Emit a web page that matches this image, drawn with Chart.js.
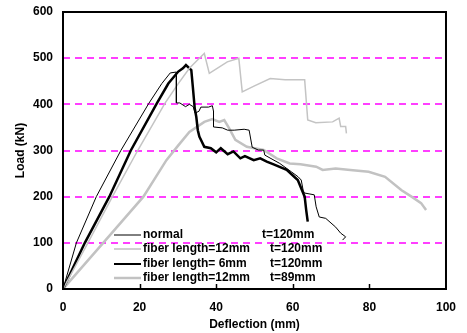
<!DOCTYPE html>
<html>
<head>
<meta charset="utf-8">
<script src="https://cdn.jsdelivr.net/npm/chart.js@4/dist/chart.umd.min.js"></script>
<style>
  html, body { margin: 0; padding: 0; background: #fff; }
  #wrap { width: 467px; height: 333px; }
</style>
</head>
<body>
<div id="wrap"><canvas id="loadChart" width="467" height="333"></canvas></div>
<script>
// valeurs (deflection en mm, load en kN)
const normalX = [0, 3.5, 8.7, 15.1, 22.4, 25.8, 28, 29.6, 29.6, 30.5, 32, 33, 34, 34.5, 35.5, 36, 38, 39, 39.3, 39.3, 41.6, 43, 44.7, 47.3, 48.6, 49.4, 51, 52.4, 52.7, 56.6, 59.6, 61.4, 62.2, 62.7, 63, 65.6, 66.1, 66.9, 68.6, 71.2, 72.5, 73.8, 73];
const normalY = [0, 100, 200, 300, 402, 445, 468, 470, 403, 403, 395, 400, 395, 381, 385, 394, 394, 397, 385, 351, 349, 344, 344, 346, 344, 307, 301, 301, 290, 272, 254, 243, 236, 214, 208, 204, 178, 156, 153, 134, 121, 113, 106];

const fiber12X = [0, 6.5, 12.9, 19.5, 26.6, 30.1, 33, 35, 36.9, 38.2, 42.9, 45.9, 46.8, 50, 54.1, 58, 63.1, 63.9, 66, 70.4, 72.1, 72.5, 73.8, 74];
const fiber12Y = [0, 100, 200, 300, 402, 445, 478, 495, 510, 467, 492, 500, 427, 440, 456, 453, 453, 366, 360, 362, 370, 352, 352, 337];

const fiber6X = [0, 5.7, 12.1, 17.7, 24.5, 27.5, 30.1, 31.3, 32.1, 33.5, 33.9, 34.4, 34.8, 35.2, 35.6, 36.9, 38.6, 40, 41.2, 43, 44.5, 46.3, 47.5, 49.8, 51.5, 53.2, 55, 58.4, 61.3, 63.1, 63.5, 63.9];
const fiber6Y = [0, 100, 200, 300, 402, 445, 471, 478, 485, 474, 438, 391, 373, 344, 330, 308, 305, 296, 305, 292, 298, 283, 288, 279, 283, 276, 270, 258, 236, 200, 171, 146];

const fiber12t89X = [0, 10.5, 21, 27, 30, 33, 36.9, 39, 40.8, 42.1, 43.4, 45, 48, 52.4, 55.8, 59.2, 62, 66.1, 67.8, 71.2, 75, 79.8, 84.1, 88.4, 91, 93.5, 94.8];
const fiber12t89Y = [0, 100, 200, 279, 310, 340, 362, 368, 362, 366, 348, 323, 308, 301, 283, 272, 270, 265, 258, 261, 258, 254, 243, 214, 200, 186, 171];

const legendNames = ['normal', 'fiber length=12mm', 'fiber length= 6mm', 'fiber length=12mm'];
const legendThick = ['t=120mm', 't=120mm', 't=120mm', 't=89mm'];
const xTicks = [0, 20, 40, 60, 80, 100];
const yTicks = [0, 100, 200, 300, 400, 500, 600];

const FONT = "'Liberation Sans', Arial, sans-serif";

function toPoints(xs, ys) {
    return xs.map((x, i) => ({ x: x, y: ys[i] }));
}

const styles = [
    { color: '#000000', width: 1 },
    { color: '#c4c4c4', width: 1.5 },
    { color: '#000000', width: 2.5 },
    { color: '#c2c2c2', width: 2.5 }
];

const series = [
    toPoints(normalX, normalY),
    toPoints(fiber12X, fiber12Y),
    toPoints(fiber6X, fiber6Y),
    toPoints(fiber12t89X, fiber12t89Y)
];

// lignes pointillées magenta derrière les courbes
const gridPlugin = {
    id: 'magentaGrid',
    beforeDatasetsDraw(chart) {
        const ctx = chart.ctx;
        const a = chart.chartArea;
        const ys = chart.scales.y;
        ctx.save();
        ctx.strokeStyle = '#ff00ff';
        ctx.lineWidth = 1.6;
        ctx.setLineDash([7, 5]);
        yTicks.slice(1, -1).forEach(v => {
            const py = Math.round(ys.getPixelForValue(v));
            ctx.beginPath();
            ctx.moveTo(a.left, py);
            ctx.lineTo(a.right, py);
            ctx.stroke();
        });
        ctx.restore();
    }
};

// cadre, petites graduations et légende dans la zone du graphe
const framePlugin = {
    id: 'frame',
    afterDatasetsDraw(chart) {
        const ctx = chart.ctx;
        const a = chart.chartArea;
        const xs = chart.scales.x;
        ctx.save();
        ctx.strokeStyle = '#000';
        ctx.lineWidth = 2;
        ctx.strokeRect(a.left, a.top, a.right - a.left, a.bottom - a.top);
        ctx.lineWidth = 1.5;
        xTicks.slice(1, -1).forEach(v => {
            const px = Math.round(xs.getPixelForValue(v)) + 0.5;
            ctx.beginPath();
            ctx.moveTo(px, a.bottom);
            ctx.lineTo(px, a.bottom - 5);
            ctx.stroke();
        });

        // légende
        const legStyles = [
            { color: '#000000', width: 1 },
            { color: '#d0d0d0', width: 2 },
            { color: '#000000', width: 2 },
            { color: '#c2c2c2', width: 2.5 }
        ];
        const rows = [235, 249, 264, 278];
        ctx.font = 'bold 12px ' + FONT;
        ctx.textBaseline = 'middle';
        ctx.fillStyle = '#000';
        rows.forEach((y, i) => {
            ctx.strokeStyle = legStyles[i].color;
            ctx.lineWidth = legStyles[i].width;
            ctx.beginPath();
            ctx.moveTo(114, y);
            ctx.lineTo(141, y);
            ctx.stroke();
            ctx.fillText(legendNames[i], 143, y);
            ctx.fillText(legendThick[i], i === 0 ? 262 : 270, y);
        });
        ctx.restore();
    }
};

const ctx = document.getElementById('loadChart').getContext('2d');
new Chart(ctx, {
    type: 'scatter',
    data: {
        datasets: series.map((pts, i) => ({
            label: legendNames[i] + ' ' + legendThick[i],
            data: pts,
            showLine: true,
            borderColor: styles[i].color,
            borderWidth: styles[i].width,
            pointRadius: 0,
            tension: 0,
            fill: false
        }))
    },
    options: {
        responsive: false,
        animation: false,
        layout: { padding: { top: 12, right: 15, left: 0, bottom: 0 } },
        plugins: {
            legend: { display: false },
            tooltip: { enabled: false }
        },
        scales: {
            x: {
                type: 'linear',
                min: 0,
                max: 100,
                afterFit: s => { s.height = 44; },
                afterBuildTicks: s => { s.ticks = xTicks.map(v => ({ value: v })); },
                grid: { display: false, drawTicks: false },
                border: { display: false },
                ticks: {
                    color: '#000',
                    padding: 11,
                    maxRotation: 0,
                    font: { family: FONT, size: 12, weight: 'bold' }
                },
                title: {
                    display: true,
                    text: 'Deflection (mm)',
                    color: '#000',
                    padding: { top: 0, bottom: 1 },
                    font: { family: FONT, size: 12, weight: 'bold' }
                }
            },
            y: {
                type: 'linear',
                min: 0,
                max: 600,
                afterFit: s => { s.width = 63; s.paddingTop = 6; s.paddingBottom = 6; },
                afterBuildTicks: s => { s.ticks = yTicks.map(v => ({ value: v })); },
                grid: { display: false, drawTicks: false },
                border: { display: false },
                ticks: {
                    color: '#000',
                    padding: 10,
                    font: { family: FONT, size: 12, weight: 'bold' }
                },
                title: {
                    display: true,
                    text: 'Load (kN)',
                    color: '#000',
                    padding: { top: 13, bottom: 0 },
                    font: { family: FONT, size: 12, weight: 'bold' }
                }
            }
        }
    },
    plugins: [gridPlugin, framePlugin]
});
</script>
</body>
</html>
